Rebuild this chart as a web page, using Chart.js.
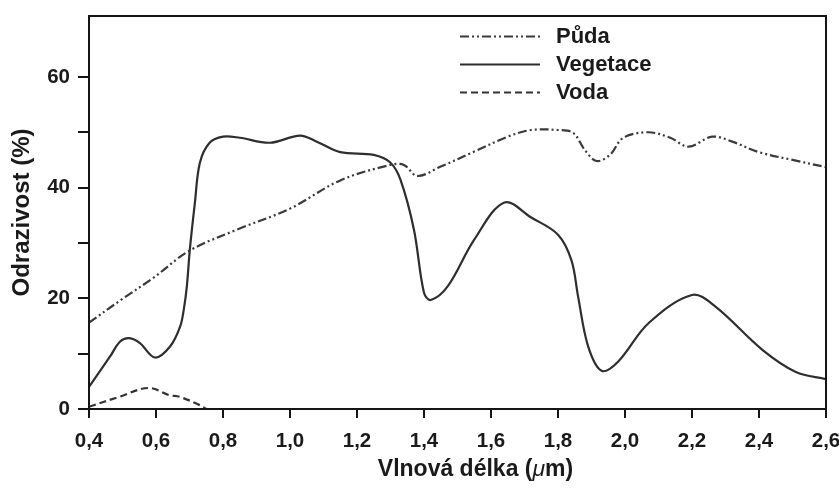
<!DOCTYPE html>
<html>
<head>
<meta charset="utf-8">
<script src="https://cdn.jsdelivr.net/npm/chart.js@4/dist/chart.umd.min.js"></script>
<style>
  html, body { margin: 0; padding: 0; background: #fff; }
  #wrap { width: 839px; height: 491px; }
</style>
</head>
<body>
<div id="wrap"><canvas id="graf"></canvas></div>
<script>
// ==========================================
// 1. DATOS
// ==========================================

const xTicks = [0.4, 0.6, 0.8, 1.0, 1.2, 1.4, 1.6, 1.8, 2.0, 2.2, 2.4, 2.6];
const yTicks = [0, 10, 20, 30, 40, 50, 60];

// Půda
const pudaX = [0.40, 0.50, 0.59, 0.70, 0.85, 1.00, 1.15, 1.30, 1.34, 1.38, 1.45, 1.55, 1.65, 1.72, 1.80, 1.845, 1.88, 1.915, 1.955, 1.995, 2.07, 2.135, 2.19, 2.26, 2.32, 2.40, 2.50, 2.60];
const pudaY = [15.6, 19.9, 23.6, 28.6, 32.6, 36.2, 41.3, 44.1, 44.1, 42.1, 43.8, 46.5, 49.2, 50.4, 50.4, 49.9, 46.8, 44.8, 45.9, 49.0, 50.0, 49.0, 47.4, 49.2, 48.3, 46.4, 45.0, 43.7];

// Vegetace
const vegX = [0.40, 0.463, 0.493, 0.52, 0.552, 0.597, 0.642, 0.672, 0.683, 0.692, 0.701, 0.716, 0.731, 0.76, 0.80, 0.85, 0.94, 1.03, 1.08, 1.15, 1.25, 1.30, 1.33, 1.37, 1.40, 1.42, 1.47, 1.55, 1.64, 1.72, 1.80, 1.84, 1.86, 1.89, 1.93, 1.98, 2.07, 2.20, 2.27, 2.41, 2.51, 2.60];
const vegY = [4.0, 9.5, 12.2, 12.8, 11.9, 9.3, 11.3, 14.9, 18.0, 22.1, 28.8, 37.2, 44.5, 48.1, 49.2, 49.0, 48.1, 49.4, 48.3, 46.4, 45.9, 44.5, 41.4, 32.4, 21.0, 19.7, 22.1, 30.6, 37.3, 34.6, 31.5, 26.9, 20.3, 11.3, 6.9, 8.6, 15.5, 20.6, 18.5, 10.7, 6.7, 5.4];

// Voda
const vodaX = [0.40, 0.49, 0.577, 0.64, 0.67, 0.72, 0.75];
const vodaY = [0.4, 2.2, 3.8, 2.5, 2.2, 1.0, 0.0];

// Títulos de ejes
const tituloY = 'Odrazivost (%)';
const tituloX = [['Vlnová délka (', 'bold'], ['μ', 'italic'], ['m)', 'bold']];

function puntos(xs, ys) {
    return xs.map((x, i) => ({ x: x, y: ys[i] }));
}

// ==========================================
// 2. PLUGIN: marco + leyenda + título X
// ==========================================

const FAMILIA = '"Liberation Sans", Arial, sans-serif';

const marcoYLeyenda = {
    id: 'marcoYLeyenda',
    afterDatasetsDraw(chart) {
        const ctx = chart.ctx;
        const a = chart.chartArea;
        ctx.save();
        ctx.strokeStyle = '#151515';
        ctx.lineWidth = 2;
        ctx.strokeRect(a.left, a.top, a.right - a.left, a.bottom - a.top);

        // leyenda arriba a la derecha
        const x0 = 460, x1 = 540, xt = 556;
        const filas = [36.5, 64.5, 92.5];
        ctx.font = 'bold 22px ' + FAMILIA;
        ctx.textBaseline = 'middle';
        ctx.fillStyle = '#1a1a1a';
        chart.data.datasets.forEach((ds, i) => {
            const y = filas[i];
            ctx.beginPath();
            ctx.setLineDash(ds.borderDash || []);
            ctx.strokeStyle = ds.borderColor;
            ctx.lineWidth = ds.borderWidth;
            ctx.moveTo(x0, y);
            ctx.lineTo(x1, y);
            ctx.stroke();
            ctx.setLineDash([]);
            ctx.fillText(ds.label, xt, y);
        });

        // título del eje X (con μ en cursiva)
        let ancho = 0;
        tituloX.forEach(([t, estilo]) => {
            ctx.font = estilo + ' 23px ' + FAMILIA;
            ancho += ctx.measureText(t).width;
        });
        let x = 475.5 - ancho / 2;
        tituloX.forEach(([t, estilo]) => {
            ctx.font = estilo + ' 23px ' + FAMILIA;
            ctx.fillText(t, x, 470);
            x += ctx.measureText(t).width;
        });
        ctx.restore();
    }
};

// ==========================================
// 3. GRÁFICO
// ==========================================

const fuenteTicks = { family: FAMILIA, size: 20.5, weight: 'bold' };

new Chart(document.getElementById('graf'), {
    type: 'line',
    data: {
        datasets: [{
            label: 'Půda',
            data: puntos(pudaX, pudaY),
            borderColor: '#3a3a3a',
            borderWidth: 2.2,
            borderDash: [9, 3, 2, 3, 2, 3]
        }, {
            label: 'Vegetace',
            data: puntos(vegX, vegY),
            borderColor: '#2e2e2e',
            borderWidth: 2.2
        }, {
            label: 'Voda',
            data: puntos(vodaX, vodaY),
            borderColor: '#333333',
            borderWidth: 2.2,
            borderDash: [7, 4]
        }]
    },
    options: {
        responsive: true,
        maintainAspectRatio: false,
        animation: false,
        layout: { padding: { top: 16, left: 0, right: 0, bottom: 0 } },
        elements: {
            point: { radius: 0 },
            line: { tension: 0.35, fill: false }
        },
        plugins: {
            legend: { display: false },
            tooltip: { enabled: false }
        },
        scales: {
            x: {
                type: 'linear',
                min: 0.4,
                max: 2.6,
                afterBuildTicks: axis => { axis.ticks = xTicks.map(v => ({ value: v })); },
                afterFit: axis => {
                    axis.height = 82;
                    axis.paddingLeft = 0;
                    axis.paddingRight = 13;
                },
                ticks: {
                    autoSkip: false,
                    maxRotation: 0,
                    padding: 11.4,
                    color: '#1a1a1a',
                    font: fuenteTicks,
                    callback: v => v.toFixed(1).replace('.', ',')
                },
                grid: { drawOnChartArea: false, tickLength: 9, color: '#151515', lineWidth: 2 },
                border: { display: true, color: '#151515', width: 2 }
            },
            y: {
                min: 0,
                max: 71,
                afterBuildTicks: axis => { axis.ticks = yTicks.map(v => ({ value: v })); },
                afterFit: axis => {
                    axis.width = 89;
                    axis.paddingTop = 0;
                    axis.paddingBottom = 0;
                },
                ticks: {
                    padding: 8,
                    color: '#1a1a1a',
                    font: fuenteTicks,
                    callback: v => (v % 20 === 0 ? v : '')
                },
                grid: { drawOnChartArea: false, tickLength: 11, color: '#151515', lineWidth: 2 },
                border: { display: true, color: '#151515', width: 2 },
                title: {
                    display: true,
                    text: tituloY,
                    color: '#1a1a1a',
                    font: { family: FAMILIA, size: 24, weight: 'bold' },
                    padding: { top: 8.1, bottom: 2 }
                }
            }
        }
    },
    plugins: [marcoYLeyenda]
});
</script>
</body>
</html>
